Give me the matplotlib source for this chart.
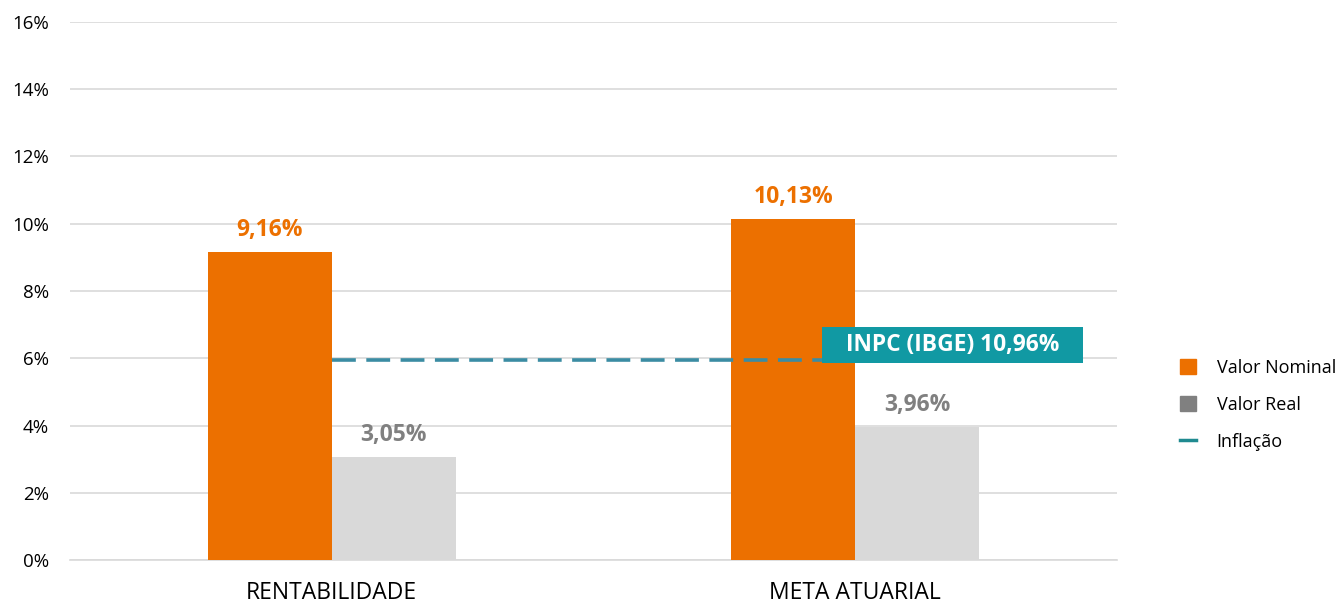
import numpy as np
import matplotlib.pyplot as plt
from matplotlib.patches import Patch, Rectangle
from matplotlib.lines import Line2D

plt.rcParams['font.family'] = ['Open Sans', 'DejaVu Sans']

categories = ['RENTABILIDADE', 'META ATUARIAL']
nominal = [9.16, 10.13]
real = [3.05, 3.96]
inflacao = 5.95
inflacao_label = 'INPC (IBGE) 10,96%'
yticks = [0, 2, 4, 6, 8, 10, 12, 14, 16]

orange = '#EC7000'
light_gray = '#D9D9D9'
dark_gray = '#808080'
teal = '#1199A3'
line_teal = '#3B8CA3'

fig = plt.figure(figsize=(13.39, 6.06), dpi=100)
ax = fig.add_axes([0.0523, 0.0759, 0.7818, 0.8878])

x = np.arange(len(categories))
w = 0.237
ax.bar(x - w / 2, nominal, w, color=orange, zorder=3)
ax.bar(x + w / 2, real, w, color=light_gray, zorder=3)

for xi, v in zip(x, nominal):
    ax.text(xi - w / 2, v + 0.3, f'{v:.2f}%'.replace('.', ','), ha='center', va='bottom',
            color=orange, fontsize=16.5, fontweight='bold')
for xi, v in zip(x, real):
    ax.text(xi + w / 2, v + 0.3, f'{v:.2f}%'.replace('.', ','), ha='center', va='bottom',
            color=dark_gray, fontsize=16.5, fontweight='bold')

# inflation line from first group center to second
ax.plot([x[0], x[1]], [inflacao, inflacao], color=line_teal, lw=2.6, ls=(0, (6.6, 2.9)), zorder=4)
ax.add_patch(Rectangle((0.937, 5.86), 0.498, 1.07, color=teal, zorder=5, lw=0))
ax.text(1.186, 6.38, inflacao_label, ha='center', va='center', color='white', fontsize=16.4,
        fontweight='bold', zorder=6)

ax.set_xlim(-0.5, 1.5)
ax.set_ylim(0, 16)
ax.set_yticks(yticks)
ax.set_yticklabels([f'{t}%' for t in yticks], fontsize=13.5)
ax.set_xticks(x)
ax.set_xticklabels(categories, fontsize=16.5)
ax.tick_params(axis='x', length=0, pad=15)
ax.tick_params(axis='y', length=0, pad=15)
ax.grid(axis='y', color='#D9D9D9', lw=1.2, zorder=0)
for s in ['top', 'right', 'left']:
    ax.spines[s].set_visible(False)
ax.spines['bottom'].set_color('#D9D9D9')
ax.spines['bottom'].set_linewidth(1.2)

handles = [Patch(color=orange), Patch(color=dark_gray),
           Line2D([0], [0], color='#1F8A90', lw=2.5)]
fig.legend(handles, ['Valor Nominal', 'Valor Real', 'Inflação'], loc='center left',
           bbox_to_anchor=(0.881, 0.332), frameon=False, fontsize=13,
           borderaxespad=0, borderpad=0,
           handlelength=0.9, handleheight=0.9, labelspacing=1.05, handletextpad=1.15)

fig.savefig('out.png', dpi=100)
